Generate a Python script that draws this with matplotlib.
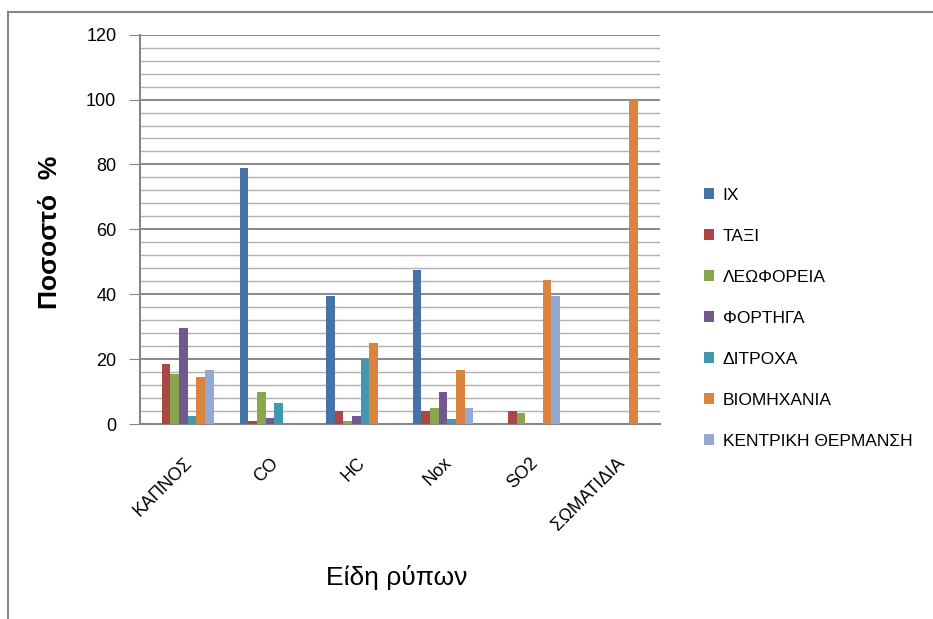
import matplotlib
matplotlib.use('Agg')
import matplotlib.pyplot as plt
import numpy as np
from matplotlib.lines import Line2D

plt.rcParams['font.family'] = ['Liberation Sans', 'DejaVu Sans']

# data
categories = ['ΚΑΠΝΟΣ', 'CO', 'HC', 'Nox', 'SO2', 'ΣΩΜΑΤΙΔΙΑ']
series = ['ΙΧ', 'ΤΑΞΙ', 'ΛΕΩΦΟΡΕΙΑ', 'ΦΟΡΤΗΓΑ', 'ΔΙΤΡΟΧΑ', 'ΒΙΟΜΗΧΑΝΙΑ', 'ΚΕΝΤΡΙΚΗ ΘΕΡΜΑΝΣΗ']
ix = [0, 79, 39.5, 47.5, 0, 0]
taxi = [18.5, 0.8, 4, 4, 4, 0]
leoforeia = [15.5, 10, 0.8, 5, 3.3, 0]
fortiga = [29.5, 2, 2.5, 10, 0, 0]
ditroxa = [2.5, 6.5, 20, 1.5, 0, 0]
viomixania = [14.5, 0, 25, 16.5, 44.5, 100]
kentriki = [16.5, 0, 0, 5, 39.5, 0]
colors = ['#4572A7', '#AA4643', '#89A54E', '#71588F', '#4198AF', '#DB843D', '#93A9CF']

values = [ix, taxi, leoforeia, fortiga, ditroxa, viomixania, kentriki]

fig = plt.figure(figsize=(9.33, 6.19), dpi=100)
ax = fig.add_axes([0.150, 0.315, 0.557, 0.629])

x = np.arange(len(categories))
w = 0.1
for j, (vals, name) in enumerate(zip(values, series)):
    ax.bar(x + (j - 3) * w, vals, w, color=colors[j], label=name, zorder=3)

ax.set_xlim(-0.5, 5.5)
ax.set_ylim(0, 120)
ax.set_yticks(np.arange(0, 121, 20))
ax.set_yticks(np.arange(0, 121, 4), minor=True)
ax.grid(axis='y', which='major', color='#7f7f7f', lw=1.3, zorder=0)
ax.grid(axis='y', which='minor', color='#b0b0b0', lw=1.0, zorder=0)
ax.tick_params(axis='y', which='major', direction='out', length=8, color='#868686',
               labelsize=13, pad=9)
ax.tick_params(axis='y', which='minor', length=0)
ax.set_xticks(x)
ax.set_xticklabels(categories, rotation=45, ha='right', va='top',
                   rotation_mode='anchor', fontsize=13)
ax.tick_params(axis='x', length=0, pad=22)
for s in ['top', 'right']:
    ax.spines[s].set_visible(False)
ax.spines['left'].set_color('#868686')
ax.spines['left'].set_linewidth(1.5)
ax.spines['bottom'].set_color('#868686')
ax.spines['bottom'].set_linewidth(1.5)

fig.text(50 / 933, 1 - 232 / 619, 'Ποσοστό  %', rotation=90, fontsize=19,
         fontweight='bold', ha='center', va='center')
fig.text(397 / 933, 1 - 578 / 619, 'Είδη ρύπων', fontsize=19,
         ha='center', va='center')

fig.legend(loc='upper left', bbox_to_anchor=(688 / 933, 1 - 172 / 619), frameon=False,
           fontsize=12.5, labelspacing=1.5, handlelength=0.6, handleheight=0.6,
           handletextpad=0.5)

# outer chart frame (only top and left edges visible)
fig.add_artist(Line2D([8 / 933, 8 / 933], [0, 1 - 12 / 619], transform=fig.transFigure,
                      color='#868686', lw=1.5))
fig.add_artist(Line2D([8 / 933, 1], [1 - 12 / 619, 1 - 12 / 619], transform=fig.transFigure,
                      color='#868686', lw=1.5))

plt.savefig('out.png', dpi=100)
